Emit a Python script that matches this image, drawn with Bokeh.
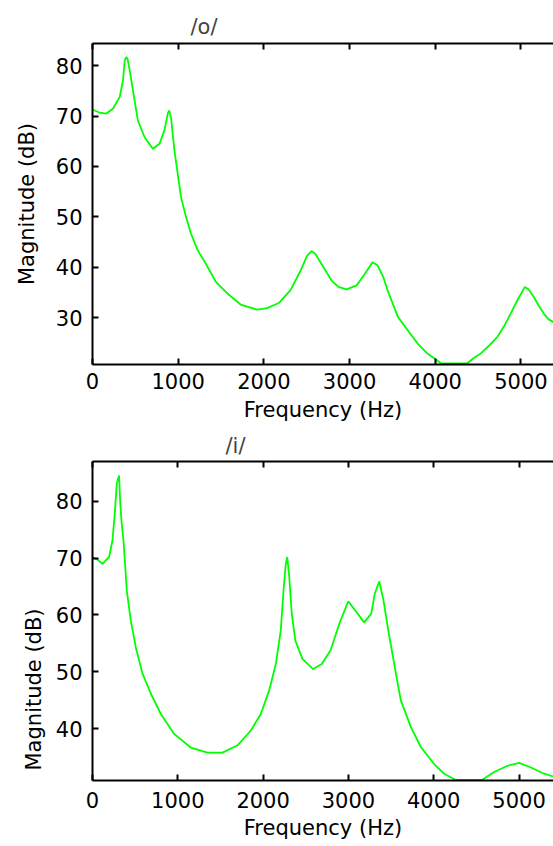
from bokeh.plotting import figure
from bokeh.models import LinearAxis, FixedTicker, Range1d, Title
from bokeh.layouts import column
from bokeh.embed import file_html
from bokeh.resources import INLINE

FONT = "DejaVu Sans"
FS = "21px"
GREEN = "#00ff00"

# /o/ spectrum
o_title = "/o/"
o_freq = [0, 80, 162, 240, 318, 356, 376, 394, 410, 434, 472, 530, 608, 704, 782, 840, 880, 895,
          917, 956, 994, 1033, 1091, 1149, 1226, 1323, 1439, 1574, 1729, 1922, 2038, 2174, 2309,
          2425, 2502, 2555, 2599, 2696, 2792, 2870, 2966, 3082, 3179, 3268, 3326, 3392, 3450,
          3566, 3700, 3798, 3900, 3991, 4070, 4370, 4450, 4532, 4630, 4726, 4810, 4880, 4960,
          5046, 5090, 5151, 5210, 5267, 5320, 5380]
o_mag = [71.3, 70.7, 70.5, 71.5, 73.8, 77.1, 81.0, 81.7, 81.3, 79.1, 75.1, 69.1, 65.8, 63.5, 64.5,
         67.2, 70.6, 71.1, 69.6, 63.2, 58.6, 53.9, 50.0, 46.7, 43.4, 40.7, 37.1, 34.8, 32.6, 31.6,
         31.9, 32.9, 35.4, 39.2, 42.2, 43.2, 42.7, 40.0, 37.3, 36.1, 35.6, 36.4, 38.7, 41.0, 40.4,
         38.1, 35.1, 30.1, 27.0, 24.8, 23.0, 21.9, 20.9, 20.9, 22.0, 22.9, 24.5, 26.2, 28.5, 30.8,
         33.5, 36.1, 35.6, 34.1, 32.3, 30.8, 29.7, 29.1]

# /i/ spectrum
i_title = "/i/"
i_freq = [0, 60, 117, 195, 234, 261, 285, 300, 312, 324, 340, 363, 379, 402, 449, 508, 586, 683,
          801, 957, 1152, 1348, 1524, 1700, 1856, 1973, 2070, 2149, 2207, 2239, 2266, 2283, 2307,
          2336, 2378, 2461, 2585, 2688, 2791, 2894, 2998, 3081, 3184, 3267, 3308, 3362, 3412,
          3474, 3557, 3614, 3732, 3849, 4005, 4122, 4259, 4564, 4708, 4865, 5001, 5138, 5294, 5404]
i_mag = [70.2, 69.7, 69.0, 70.2, 73.1, 77.8, 83.1, 84.0, 84.5, 80.1, 76.5, 73.1, 69.6, 64.3, 59.0,
         54.3, 49.7, 46.2, 42.6, 39.1, 36.7, 35.8, 35.8, 37.1, 39.7, 42.6, 46.7, 51.4, 57.3, 64.3,
         69.0, 70.2, 66.6, 60.2, 55.5, 52.3, 50.5, 51.4, 53.8, 58.5, 62.4, 60.8, 58.7, 60.2, 63.7,
         65.9, 62.5, 56.7, 49.7, 45.0, 40.3, 36.8, 33.8, 32.1, 31.0, 31.0, 32.4, 33.5, 34.0, 33.2,
         32.1, 31.6]

x_ticks = [0, 1000, 2000, 3000, 4000, 5000]
o_yticks = [30, 40, 50, 60, 70, 80]
i_yticks = [40, 50, 60, 70, 80]
x_label = "Frequency (Hz)"
y_label = "Magnitude (dB)"


def style_axis(ax):
    ax.axis_line_width = 2
    ax.axis_line_color = "black"
    ax.major_tick_in = 6
    ax.major_tick_out = 0
    ax.major_tick_line_width = 2
    ax.minor_tick_in = 0
    ax.minor_tick_out = 0
    ax.major_label_text_font = FONT
    ax.major_label_text_font_size = FS
    ax.major_label_text_color = "black"
    ax.axis_label_text_font = FONT
    ax.axis_label_text_font_size = FS
    ax.axis_label_text_font_style = "normal"
    ax.axis_label_text_color = "black"


def make(freq, mag, title, yticks, xr, yr, height, bl, bt, bb, toff, tsd, tick_sd, lab_sd, ylab):
    p = figure(width=553, height=height, x_range=Range1d(*xr), y_range=Range1d(*yr),
               output_backend="svg", toolbar_location=None,
               min_border_left=bl, min_border_right=0, min_border_top=bt, min_border_bottom=bb)
    p.outline_line_color = None
    p.grid.visible = False
    p.background_fill_color = "white"
    p.border_fill_color = "white"
    p.title.text = title
    p.title.text_font = FONT
    p.title.text_font_size = FS
    p.title.text_font_style = "normal"
    p.title.align = "left"
    p.title.offset = toff
    p.title.standoff = tsd

    xa = p.xaxis[0]
    style_axis(xa)
    xa.ticker = FixedTicker(ticks=x_ticks)
    xa.axis_label = x_label
    xa.major_label_standoff = tick_sd
    xa.axis_label_standoff = lab_sd

    ya = p.yaxis[0]
    style_axis(ya)
    ya.ticker = FixedTicker(ticks=yticks)
    ya.major_label_standoff = 10
    if ylab:
        ya.axis_label = y_label
        ya.axis_label_standoff = 14

    top = LinearAxis(ticker=FixedTicker(ticks=x_ticks))
    style_axis(top)
    top.major_label_text_font_size = "1px"
    top.major_label_text_color = None
    top.major_label_standoff = 0
    p.add_layout(top, "above")

    p.line(freq, mag, line_color=GREEN, line_width=1.8)
    return p


p1 = make(o_freq, o_mag, o_title, o_yticks, (0, 5380), (20.7, 84.4), 427, 89, 43, 63, 98, 10, 8, 6, True)
p2 = make(i_freq, i_mag, i_title, i_yticks, (0, 5404), (30.91, 86.98), 419, 92, 34, 66, 133, 7, 11, 5, False)

p2.add_layout(Title(text=y_label, align="left", offset=10, standoff=14, text_font=FONT,
                    text_font_size=FS, text_font_style="normal", text_color="black"), "left")

layout = column(p1, p2, spacing=0)
open("out.html", "w").write(file_html(layout, INLINE))
